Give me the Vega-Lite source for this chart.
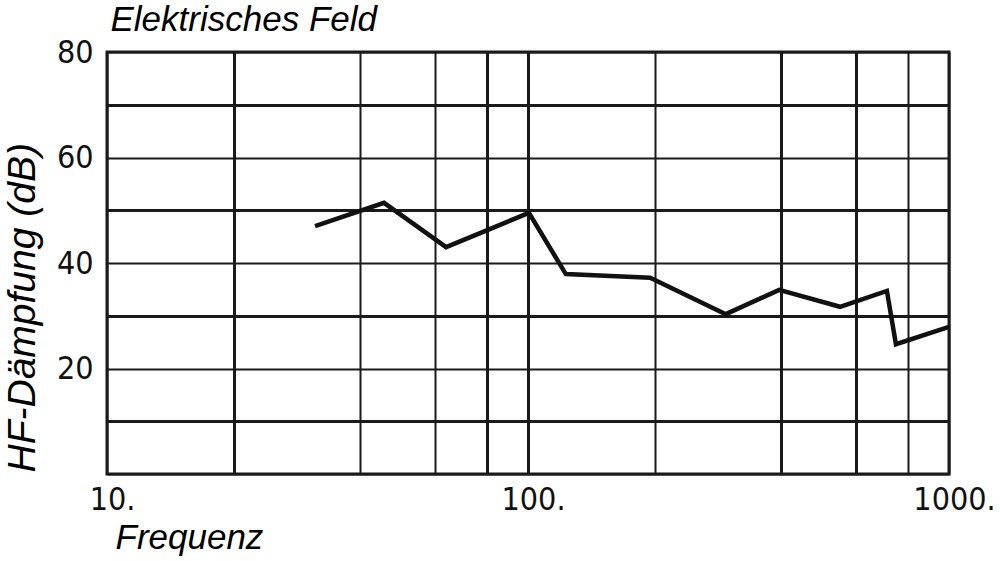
{
  "$schema": "https://vega.github.io/schema/vega-lite/v6.json",
  "autosize": "none",
  "width": 842,
  "height": 422,
  "padding": {"left": 107, "top": 52, "right": 51, "bottom": 87},
  "background": "white",
  "config": {
    "view": {"stroke": "#1a1a1a", "strokeWidth": 3},
    "axis": {"domain": false, "ticks": false}
  },
  "data": {
    "values": [
      {"f": 31.2, "db": 47.0},
      {"f": 45.5, "db": 51.4},
      {"f": 63.9, "db": 43.0},
      {"f": 100.5, "db": 49.5},
      {"f": 123, "db": 37.9},
      {"f": 195, "db": 37.2},
      {"f": 295, "db": 30.3},
      {"f": 395, "db": 34.9},
      {"f": 551, "db": 31.7},
      {"f": 712, "db": 34.7},
      {"f": 748, "db": 24.6},
      {"f": 1000, "db": 27.9}
    ]
  },
  "resolve": {"axis": {"x": "independent", "y": "independent"}},
  "layer": [
    {
      "mark": {"type": "line", "color": "#111", "strokeWidth": 4.5, "strokeJoin": "miter", "clip": false},
      "encoding": {
        "x": {
          "field": "f",
          "type": "quantitative",
          "scale": {"type": "log", "domain": [10, 1000], "nice": false},
          "axis": {
            "values": [10, 20, 40, 60, 80, 100, 200, 400, 600, 800, 1000],
            "labelExpr": "datum.value == 10 ? '10.' : datum.value == 100 ? '100.' : datum.value == 1000 ? '1000.' : ''",
            "labelFont": "DejaVu Sans Condensed",
            "labelFontSize": 32,
            "labelColor": "#111",
            "labelPadding": 10,
            "labelOffset": 5,
            "labelBound": false,
            "labelOverlap": false,
            "labelFlush": false,
            "grid": true,
            "gridColor": "#1a1a1a",
            "gridOpacity": 1,
            "gridWidth": {"condition": {"test": "indexof([20, 80, 100, 400, 600], datum.value) >= 0", "value": 3}, "value": 2},
            "title": "Frequenz",
            "titleFont": "Liberation Sans",
            "titleFontStyle": "italic",
            "titleFontWeight": "normal",
            "titleFontSize": 35,
            "titleColor": "#000",
            "titleAnchor": "start",
            "titleAlign": "left",
            "titleBaseline": "alphabetic",
            "titleX": 8,
            "titleY": 74
          }
        },
        "y": {
          "field": "db",
          "type": "quantitative",
          "scale": {"domain": [0, 80], "nice": false, "zero": true},
          "axis": {
            "values": [0, 10, 20, 30, 40, 50, 60, 70, 80],
            "labelExpr": "datum.value % 20 == 0 && datum.value > 0 ? datum.label : ''",
            "labelFont": "DejaVu Sans Condensed",
            "labelFontSize": 32,
            "labelColor": "#111",
            "labelPadding": 14,
            "labelBaseline": "middle",
            "labelBound": false,
            "labelOverlap": false,
            "labelFlush": false,
            "grid": true,
            "gridColor": "#1a1a1a",
            "gridOpacity": 1,
            "gridWidth": {"condition": {"test": "datum.value % 20 == 10", "value": 3}, "value": 2},
            "title": "HF-Dämpfung (dB)",
            "titleFont": "Liberation Sans",
            "titleFontStyle": "italic",
            "titleFontWeight": "normal",
            "titleFontSize": 39,
            "titleColor": "#000",
            "titleAngle": -90,
            "titleAlign": "left",
            "titleBaseline": "alphabetic",
            "titleX": -73,
            "titleY": 420
          }
        }
      }
    },
    {
      "mark": {"type": "line", "opacity": 0},
      "encoding": {
        "x": {
          "field": "f",
          "type": "quantitative",
          "axis": {
            "orient": "top",
            "labels": false,
            "grid": false,
            "ticks": false,
            "domain": false,
            "title": "Elektrisches Feld",
            "titleFont": "Liberation Sans",
            "titleFontStyle": "italic",
            "titleFontWeight": "normal",
            "titleFontSize": 35,
            "titleColor": "#000",
            "titleAnchor": "start",
            "titleAlign": "left",
            "titleBaseline": "alphabetic",
            "titleX": 3,
            "titleY": -22
          }
        },
        "y": {"field": "db", "type": "quantitative", "axis": null}
      }
    }
  ]
}
